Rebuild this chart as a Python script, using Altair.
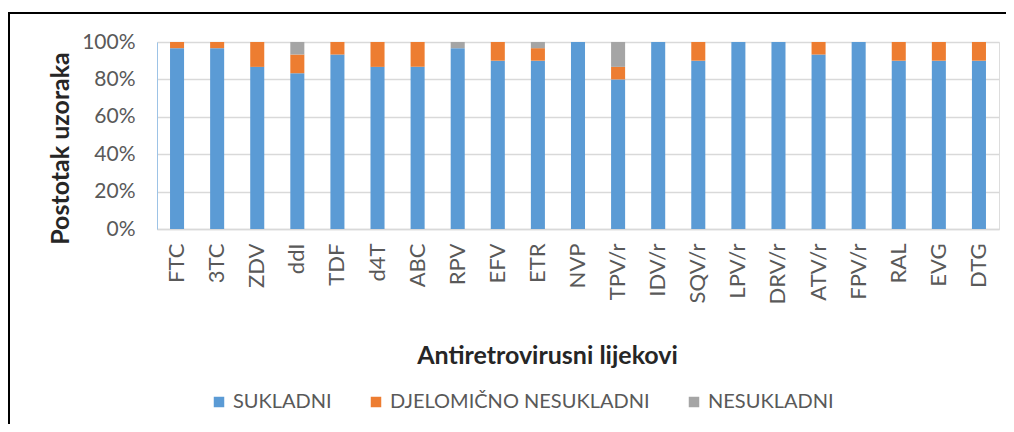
import altair as alt
import pandas as pd

drugs = ["FTC", "3TC", "ZDV", "ddI", "TDF", "d4T", "ABC", "RPV", "EFV", "ETR", "NVP",
         "TPV/r", "IDV/r", "SQV/r", "LPV/r", "DRV/r", "ATV/r", "FPV/r", "RAL", "EVG", "DTG"]
sukladni = [0.967, 0.967, 0.867, 0.833, 0.933, 0.867, 0.867, 0.967, 0.90, 0.90, 1.0,
            0.80, 1.0, 0.90, 1.0, 1.0, 0.933, 1.0, 0.90, 0.90, 0.90]
djelomicno = [0.033, 0.033, 0.133, 0.10, 0.067, 0.133, 0.133, 0.0, 0.10, 0.067, 0.0,
              0.067, 0.0, 0.10, 0.0, 0.0, 0.067, 0.0, 0.10, 0.10, 0.10]
nesukladni = [0.0, 0.0, 0.0, 0.067, 0.0, 0.0, 0.0, 0.033, 0.0, 0.033, 0.0,
              0.133, 0.0, 0.0, 0.0, 0.0, 0.0, 0.0, 0.0, 0.0, 0.0]
series = ["SUKLADNI", "DJELOMIČNO NESUKLADNI", "NESUKLADNI"]
colors = ["#5B9BD5", "#ED7D31", "#A5A5A5"]

rows = []
for i, d in enumerate(drugs):
    for k, (s, vals) in enumerate(zip(series, [sukladni, djelomicno, nesukladni])):
        rows.append({"lijek": d, "serija": s, "udio": vals[i], "red": k})
df = pd.DataFrame(rows)

FONT = "Lato"

bars = alt.Chart(df).mark_bar().encode(
    x=alt.X("lijek:N", sort=drugs,
            scale=alt.Scale(paddingInner=0.65, paddingOuter=0.325),
            axis=alt.Axis(title="Antiretrovirusni lijekovi", labelAngle=-90,
                          labelAlign="right", labelBaseline="middle",
                          labelFontSize=22, labelColor="#595959", labelPadding=14,
                          ticks=False, domainColor="#d9d9d9", domainWidth=1.5,
                          titleFontSize=25, titleFontWeight="bold", titleColor="#262626",
                          titleX=390, titleAlign="center",
                          titleY=126, titleBaseline="middle", labelFont=FONT, titleFont=FONT)),
    y=alt.Y("udio:Q", stack="zero",
            scale=alt.Scale(domain=[0, 1], nice=False),
            axis=alt.Axis(title="Postotak uzoraka", format=".0%", values=[0, 0.2, 0.4, 0.6, 0.8, 1.0],
                          labelFontSize=21, labelColor="#595959", labelPadding=22,
                          ticks=False, domainColor="#9DC3E6", gridColor="#d9d9d9", gridWidth=1.5,
                          titleFontSize=25, titleFontWeight="bold", titleColor="#262626",
                          titleX=-97, titleY=106, titleAlign="center",
                          titleBaseline="middle", labelFont=FONT, titleFont=FONT)),
    color=alt.Color("serija:N", sort=series,
                    scale=alt.Scale(domain=series, range=colors),
                    legend=alt.Legend(title=None, orient="none", direction="horizontal",
                                      legendX=52, legendY=350, symbolType="square",
                                      symbolSize=110, symbolStrokeWidth=0,
                                      labelFontSize=20, labelColor="#595959", labelFont=FONT,
                                      labelLimit=0, columnPadding=34, labelOffset=4)),
    order=alt.Order("red:Q"),
)

frame = alt.Chart(pd.DataFrame({"a": [0]})).mark_rect(
    fill=None, stroke="black", strokeWidth=2
).encode(
    x=alt.value(-148), x2=alt.value(900), y=alt.value(-29), y2=alt.value(500)
)

chart = alt.layer(bars, frame).properties(
    width=842, height=187,
    autosize=alt.AutoSizeParams(type="none"),
    padding={"left": 149, "top": 34, "right": 7, "bottom": 195},
).configure_view(stroke=None).configure(background="white")

chart.save("out.html", embed_options={"renderer": "svg", "actions": False})
